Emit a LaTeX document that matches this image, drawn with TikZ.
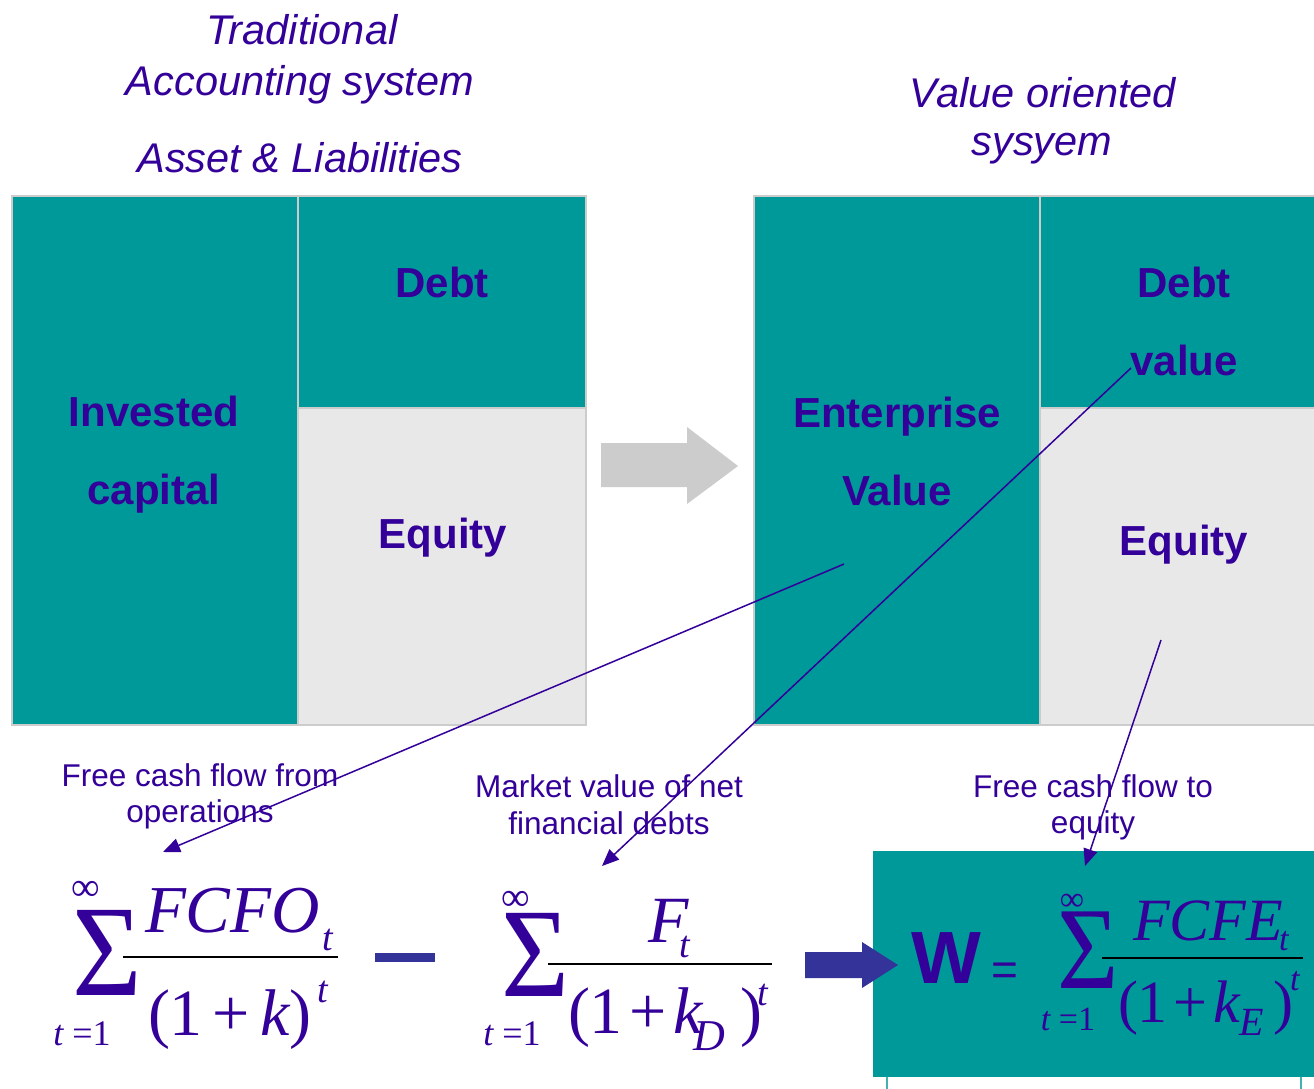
\documentclass[tikz,border=0pt]{standalone}
\usepackage{fontspec}
\setmainfont{Liberation Sans}
\newfontfamily\tms{Liberation Serif}
\usetikzlibrary{arrows.meta}
\definecolor{teal1}{RGB}{0,153,153}
\definecolor{pur}{RGB}{51,0,153}
\definecolor{lgray}{RGB}{232,232,232}
\definecolor{bord}{RGB}{204,204,204}
\definecolor{navy}{RGB}{51,51,153}
\tikzset{
  txt/.style={inner sep=0pt, outer sep=0pt, anchor=base, text=pur},
  title/.style={txt, font=\fontsize{41.5}{48}\selectfont\itshape},
  blab/.style={txt, font=\fontsize{42}{48}\selectfont\bfseries},
  lab/.style={txt, font=\fontsize{31.5}{36}\selectfont},
  ser/.style={txt, font=\fontsize{#1}{#1}\selectfont\tms},
  seri/.style={txt, anchor=base west, font=\fontsize{#1}{#1}\selectfont\tms\itshape},
  serw/.style={txt, anchor=base west, font=\fontsize{#1}{#1}\selectfont\tms},
  infs/.style={txt, anchor=center, font=\fontsize{#1}{#1}\selectfont\tms},
  conn/.style={pur, line width=1.5pt, -{Triangle[length=17pt,width=14pt]}},
  tealcell/.style={fill=teal1, draw=bord, line width=1.5pt},
  graycell/.style={fill=lgray, draw=bord, line width=1.5pt},
  fbar/.style={black, line width=2.5pt},
}
\begin{document}
\begin{tikzpicture}[x=1pt,y=-1pt]
\useasboundingbox (0,0) rectangle (1314,1088);
\clip (0,0) rectangle (1314,1088);
\fill[white] (0,0) rectangle (1314,1088);

% titles
\node[title] (t1) at (302,44) {Traditional};
\node[title] (t2) at (300,95) {Accounting system};
\node[title] (t3) at (300,172) {Asset \& Liabilities};
\node[title] (t4) at (1043,107) {Value oriented};
\node[title] (t5) at (1042,155) {sysyem};

% left block
\filldraw[tealcell] (12,196) rectangle (298,725);
\filldraw[tealcell] (298,196) rectangle (586,408);
\filldraw[graycell] (298,408) rectangle (586,725);
\node[blab] (ic1) at (154,426) {Invested};
\node[blab] (ic2) at (154,504) {capital};
\node[blab] (ld) at (442,297) {Debt};
\node[blab] (le) at (443,548) {Equity};

% gray arrow
\fill[bord] (601,443) -- (687,443) -- (687,427) -- (738,466) -- (687,504) -- (687,487) -- (601,487) -- cycle;

% right block
\filldraw[tealcell] (754,196) rectangle (1040,725);
\filldraw[tealcell] (1040,196) rectangle (1330,408);
\filldraw[graycell] (1040,408) rectangle (1330,725);
\node[blab] (ev1) at (897,427) {Enterprise};
\node[blab] (ev2) at (897,505) {Value};
\node[blab] (rd1) at (1184,297) {Debt};
\node[blab] (rd2) at (1184,375) {value};
\node[blab] (re) at (1184,555) {Equity};

% labels
\node[lab] (l1a) at (200,786) {Free cash flow from};
\node[lab] (l1b) at (200,822) {operations};
\node[lab] (l2a) at (609,797) {Market value of net};
\node[lab] (l2b) at (609,834) {financial debts};
\node[lab] (l3a) at (1093,797) {Free cash flow to};
\node[lab] (l3b) at (1093,833) {equity};

% result box
\fill[teal1] (873,851) rectangle (1330,1077);
\draw[teal1!75!white, line width=2pt] (887,1077) -- (887,1092);
\draw[teal1!75!white, line width=2pt] (1301,1077) -- (1301,1092);

% connectors
\coordinate (c1s) at (844,564);
\coordinate (c1e) at (163,852);
\coordinate (c2s) at (1131,368);
\coordinate (c2e) at (602,866);
\coordinate (c3s) at (1161,640);
\coordinate (c3e) at (1085,866);
\draw[conn] (c1s) -- (c1e);
\draw[conn] (c2s) -- (c2e);
\draw[conn] (c3s) -- (c3e);

% formula 1
\node[ser=130] (s1) at (107,995) {\scalebox{0.92}[1]{Σ}};
\node[infs=40] (i1) at (86,891) {∞};
\node[ser=36] (lim1) at (82,1045) {{\itshape t} =1};
\draw[fbar] (123,957) -- (338,957);
\node[seri=67] (n1) at (145,932) {FCFO};
\node[seri=38] (n1t) at (322,950) {t};
\node[serw=66] (d1) at (148,1035) {(1\hspace{0.15em}+\hspace{0.15em}{\itshape k})};
\node[seri=38] (d1t) at (317,1002) {t};
\fill[navy] (375,953) rectangle (435,962);

% formula 2
\node[ser=127] (s2) at (535,996) {\scalebox{0.92}[1]{Σ}};
\node[infs=40] (i2) at (516,901) {∞};
\node[ser=36] (lim2) at (512,1045) {{\itshape t} =1};
\draw[fbar] (548,964) -- (772,964);
\node[seri=66] (n2) at (648,942) {F};
\node[seri=38] (n2t) at (679,957) {t};
\node[serw=66] (d2) at (568,1033) {(1\hspace{0.1em}+\hspace{0.1em}{\itshape k}};
\node[seri=44] (d2D) at (693,1050) {D};
\node[serw=66] (d2p) at (740,1033) {)};
\node[seri=38] (d2t) at (757,1005) {t};

% blue arrow
\fill[navy] (805,952) -- (862,952) -- (862,942) -- (898,965) -- (862,988) -- (862,978) -- (805,978) -- cycle;

% formula 3
\node[txt, font=\fontsize{74}{74}\selectfont\bfseries] (W) at (946,983) {W};
\node[txt, font=\fontsize{46}{46}\selectfont] (eq) at (1005,985) {=};
\node[ser=117] (s3) at (1088,988) {\scalebox{0.9}[1]{Σ}};
\node[infs=34] (i3) at (1072,902) {∞};
\node[ser=34] (lim3) at (1068,1030) {{\itshape t} =1};
\draw[fbar] (1102,958) -- (1303,958);
\node[seri=60] (n3) at (1133,940) {FCFE};
\node[seri=34] (n3t) at (1279,950) {t};
\node[serw=60] (d3) at (1118,1022) {(1\hspace{0.1em}+\hspace{0.1em}{\itshape k}};
\node[seri=40] (d3E) at (1239,1035) {E};
\node[serw=60] (d3p) at (1273,1022) {)};
\node[seri=34] (d3t) at (1290,990) {t};
\end{tikzpicture}
\end{document}
